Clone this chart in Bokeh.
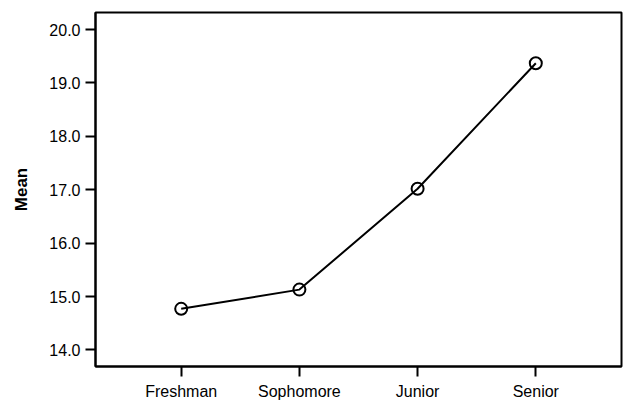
from bokeh.plotting import figure
from bokeh.models import Range1d, FixedTicker, NumeralTickFormatter
from bokeh.embed import file_html
from bokeh.resources import INLINE

categories = ["Freshman", "Sophomore", "Junior", "Senior"]
means = [14.77, 15.13, 17.02, 19.37]
y_ticks = [14, 15, 16, 17, 18, 19, 20]

xs = list(range(1, len(categories) + 1))

p = figure(width=625, height=402, output_backend="svg", toolbar_location=None,
           x_range=Range1d(0.275, len(categories) + 0.725),
           y_range=Range1d(13.69, 20.32),
           min_border_left=95, min_border_right=4, min_border_top=12, min_border_bottom=36)

p.line(xs, means, line_color="black", line_width=2)
p.scatter(xs, means, marker="circle", size=12, line_color="black", line_width=2,
          fill_alpha=0)

p.xgrid.visible = False
p.ygrid.visible = False
p.outline_line_color = "black"
p.outline_line_width = 2
p.background_fill_color = "white"
p.border_fill_color = "white"

p.xaxis.ticker = FixedTicker(ticks=xs)
p.xaxis.major_label_overrides = {i + 1: c for i, c in enumerate(categories)}
p.yaxis.ticker = FixedTicker(ticks=y_ticks)
p.yaxis.formatter = NumeralTickFormatter(format="0.0")
p.yaxis.axis_label = "Mean"

for ax in (p.xaxis, p.yaxis):
    ax.axis_line_color = "black"
    ax.axis_line_width = 2
    ax.major_tick_line_color = "black"
    ax.major_tick_line_width = 2
    ax.major_tick_out = 10
    ax.major_tick_in = 0
    ax.minor_tick_line_color = None
    ax.major_label_text_font = "Liberation Sans"
    ax.major_label_text_font_size = "16px"
    ax.major_label_text_color = "black"

p.xaxis.major_label_standoff = 6
p.yaxis.major_label_standoff = 5
p.yaxis.axis_label_text_font = "Liberation Sans"
p.yaxis.axis_label_text_font_size = "17px"
p.yaxis.axis_label_text_font_style = "bold"
p.yaxis.axis_label_text_color = "black"
p.yaxis.axis_label_standoff = 15

open("out.html", "w").write(file_html(p, INLINE))
